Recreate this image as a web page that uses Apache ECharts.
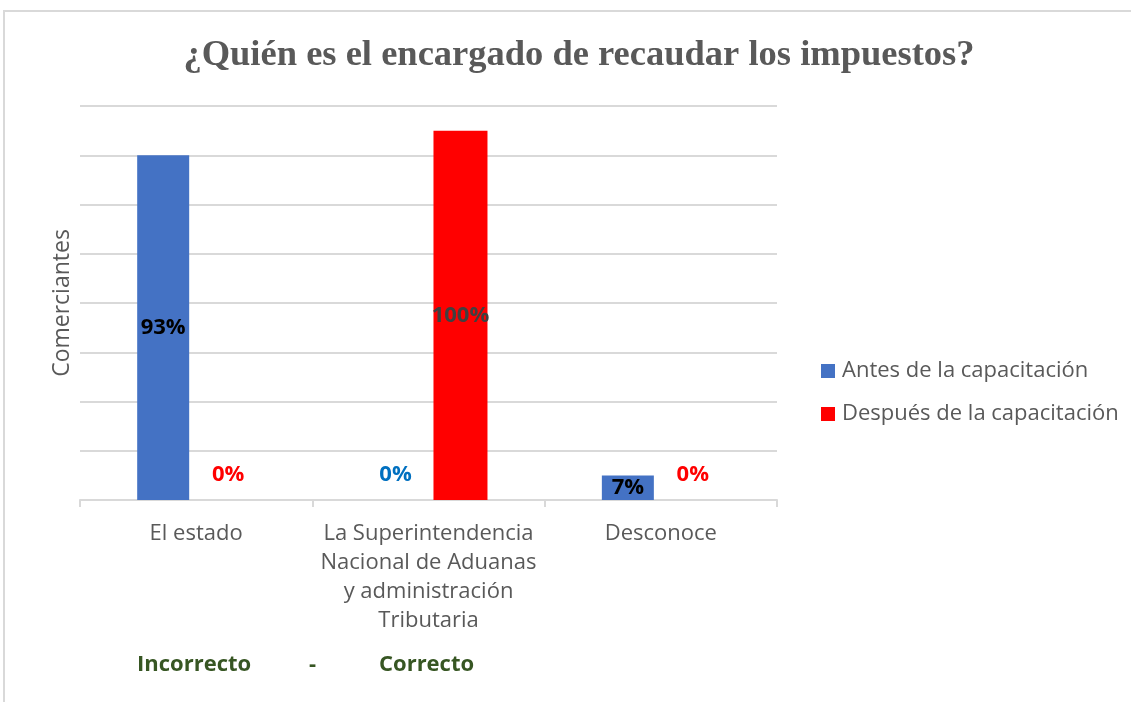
<!DOCTYPE html>
<html>
<head>
<meta charset="utf-8">
<script src="https://cdn.jsdelivr.net/npm/echarts@6/dist/echarts.min.js"></script>
<style>html,body{margin:0;padding:0;background:#fff}#c{width:1131px;height:702px}</style>
</head>
<body>
<div id="c"></div>
<script>
var categories = ['El estado', 'La Superintendencia\nNacional de Aduanas\ny administración\nTributaria', 'Desconoce'];
var seriesNames = ['Antes de la capacitación', 'Después de la capacitación'];
var antesCount = [14, 0, 1];
var despuesCount = [0, 15, 0];
var antesPct = ['93%', '0%', '7%'];
var despuesPct = ['0%', '100%', '0%'];
var yTicks = [0, 2, 4, 6, 8, 10, 12, 14, 16];

var FONT = '"Open Sans", Lato, sans-serif';

function buildData(counts, pcts, zeroColor, textColor) {
  return counts.map(function (v, i) {
    var isZero = v === 0;
    return {
      value: v,
      label: {
        show: true,
        formatter: pcts[i],
        position: isZero ? 'top' : 'inside',
        distance: isZero ? 14 : 0,
        color: isZero ? zeroColor : textColor,
        fontWeight: 'bold',
        fontSize: 22,
        fontFamily: FONT
      }
    };
  });
}

var chart = echarts.init(document.getElementById('c'));
chart.setOption({
  backgroundColor: '#fff',
  animation: false,
  title: {
    text: '¿Quién es el encargado de recaudar los impuestos?',
    left: 574, textAlign: 'center', top: 32,
    textStyle: { fontFamily: '"Liberation Serif", "DejaVu Serif", serif', fontWeight: 'bold', fontSize: 36.5, color: '#595959' }
  },
  legend: {
    orient: 'vertical', left: 816, top: 355, itemGap: 21,
    itemWidth: 14, itemHeight: 14, icon: 'rect',
    textStyle: { fontFamily: FONT, fontSize: 22, color: '#595959', padding: [0, 0, 0, 2] },
    data: seriesNames
  },
  grid: { left: 80, right: 354, top: 106, bottom: 202 },
  xAxis: {
    type: 'category', data: categories,
    axisLine: { lineStyle: { color: '#d9d9d9', width: 2 } },
    axisTick: { show: true, interval: 0, length: 7, lineStyle: { color: '#d9d9d9', width: 2 } },
    axisLabel: { interval: 0, fontFamily: FONT, fontSize: 22, color: '#595959', lineHeight: 29, margin: 19 }
  },
  yAxis: {
    type: 'value', min: yTicks[0], max: yTicks[yTicks.length - 1], interval: yTicks[1] - yTicks[0],
    name: 'Comerciantes', nameLocation: 'middle', nameGap: 6, nameRotate: 90,
    nameTextStyle: { fontFamily: FONT, fontSize: 23, color: '#595959' },
    axisLabel: { show: false }, axisLine: { show: false }, axisTick: { show: false },
    splitLine: { lineStyle: { color: '#d9d9d9', width: 2 } }
  },
  series: [
    {
      name: seriesNames[0], type: 'bar', barWidth: 52, barGap: '23%',
      itemStyle: { color: '#4472C4' },
      data: buildData(antesCount, antesPct, '#0070C0', '#000000')
    },
    {
      name: seriesNames[1], type: 'bar', barWidth: 54, barGap: '23%',
      itemStyle: { color: '#FF0000' },
      data: buildData(despuesCount, despuesPct, '#FF0000', '#404040')
    }
  ],
  graphic: [
    { type: 'rect', shape: { x: 4, y: 11, width: 1200, height: 800 }, style: { fill: 'none', stroke: '#d9d9d9', lineWidth: 2 }, silent: true },
    { type: 'text', left: 137, top: 654, style: { text: 'Incorrecto', fontFamily: FONT, fontWeight: 'bold', fontSize: 22, fill: '#375623' } },
    { type: 'text', left: 309, top: 654, style: { text: '-', fontFamily: FONT, fontWeight: 'bold', fontSize: 22, fill: '#375623' } },
    { type: 'text', left: 379, top: 654, style: { text: 'Correcto', fontFamily: FONT, fontWeight: 'bold', fontSize: 22, fill: '#375623' } }
  ]
});
</script>
</body>
</html>
